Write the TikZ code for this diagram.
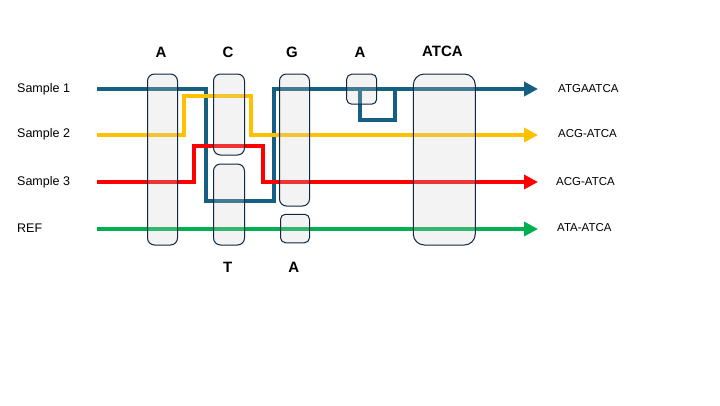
\documentclass[tikz,border=0pt]{standalone}
\usepackage{fontspec}
\setmainfont{Liberation Sans}
\usetikzlibrary{arrows.meta}
\definecolor{sblue}{HTML}{156082}
\definecolor{syellow}{HTML}{FFC000}
\definecolor{sred}{HTML}{FF0000}
\definecolor{sgreen}{HTML}{00B050}
\definecolor{boxline}{HTML}{0E2841}
\definecolor{boxfill}{HTML}{CFCFCF}
\tikzset{
  route/.style={line width=4pt},
  tipped/.style={-{Triangle[length=14pt,width=14pt]}},
  gbox/.style={draw=boxline, line width=1pt, fill=boxfill, fill opacity=0.25, draw opacity=1,
    rounded corners=7pt, inner sep=0pt, outer sep=0pt},
  seqlabel/.style={font=\fontsize{12.5}{14}\selectfont, anchor=west, inner sep=0pt},
  outlabel/.style={font=\fontsize{11.5}{13}\selectfont, anchor=west, inner sep=0pt},
  baselabel/.style={font=\bfseries\fontsize{15}{17}\selectfont, inner sep=0pt},
}
\begin{document}
\begin{tikzpicture}[x=1pt,y=-1pt]
\useasboundingbox (0,0) rectangle (720,405);
% labels left
\node[seqlabel] (s1) at (17,89) {Sample 1};
\node[seqlabel] (s2) at (17,134) {Sample 2};
\node[seqlabel] (s3) at (17,182) {Sample 3};
\node[seqlabel] (sr) at (17,228) {REF};
% labels right
\node[outlabel] (o1) at (558,89) {ATGAATCA};
\node[outlabel] (o2) at (558,134) {ACG-ATCA};
\node[outlabel] (o3) at (556,182) {ACG-ATCA};
\node[outlabel] (o4) at (557,228) {ATA-ATCA};
% routes
\coordinate (b0) at (97,89);
\coordinate (b9) at (538,89);
\draw[route, sblue, tipped] (b0) -- (206,89) -- (206,201) -- (274,201) -- (274,89) -- (b9);
\draw[route, sblue] (360,89) -- (360,120) -- (395,120) -- (395,89);
\coordinate (y0) at (97,135);
\coordinate (y9) at (538,135);
\draw[route, syellow, tipped] (y0) -- (184,135) -- (184,96) -- (251,96) -- (251,135) -- (y9);
\coordinate (r0) at (97,182);
\coordinate (r9) at (538,182);
\draw[route, sred, tipped] (r0) -- (194,182) -- (194,146) -- (263,146) -- (263,182) -- (r9);
\coordinate (g0) at (97,229);
\coordinate (g9) at (538,229);
\draw[route, sgreen, tipped] (g0) -- (g9);
% boxes
\node[gbox, minimum width=30pt, minimum height=171pt] (bA) at (162.5,159.5) {};
\node[gbox, minimum width=31pt, minimum height=81pt] (bC) at (229,114.5) {};
\node[gbox, minimum width=31pt, minimum height=81pt] (bT) at (229,204.5) {};
\node[gbox, minimum width=30pt, minimum height=132pt] (bG) at (294.5,140) {};
\node[gbox, rounded corners=5pt, minimum width=29pt, minimum height=28.5pt] (bA2) at (295,228.5) {};
\node[gbox, rounded corners=5pt, minimum width=30pt, minimum height=30pt] (bA3) at (361.7,89.2) {};
\node[gbox, rounded corners=11pt, minimum width=62pt, minimum height=171pt] (bATCA) at (444.3,159.5) {};
% base labels
\node[baselabel] (lA) at (161,52) {A};
\node[baselabel] (lC) at (228,52) {C};
\node[baselabel] (lG) at (292,52) {G};
\node[baselabel] (lA3) at (360,52.5) {A};
\node[baselabel] (lATCA) at (442.5,51.5) {ATCA};
\node[baselabel] (lT) at (227.7,267) {T};
\node[baselabel] (lA2) at (293.7,267) {A};
\end{tikzpicture}
\end{document}
